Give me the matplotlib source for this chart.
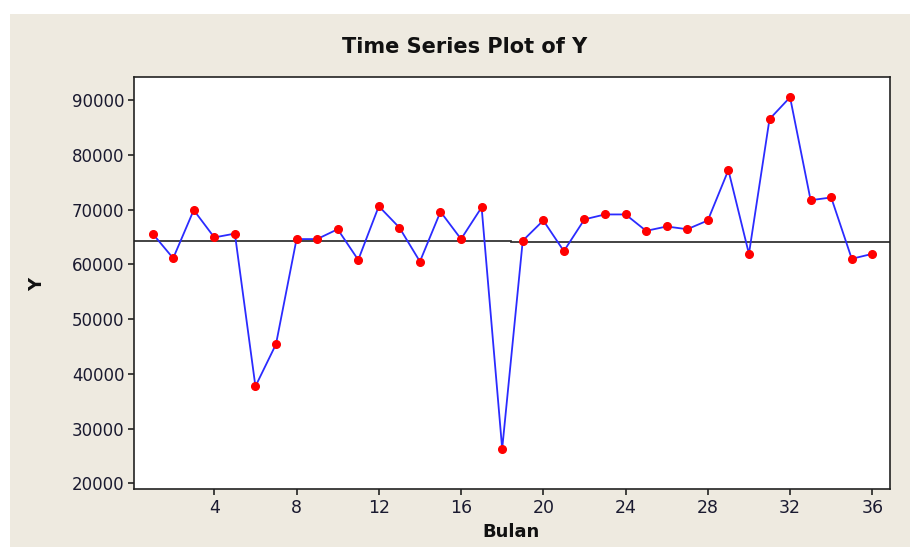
import matplotlib
matplotlib.use("Agg")
import matplotlib.pyplot as plt
from matplotlib.patches import Rectangle

# Data
bulan = list(range(1, 37))
y_values = [65600, 61100, 69900, 64900, 65600, 37700, 45400, 64600, 64600, 66400,
            60800, 70600, 66700, 60500, 69600, 64600, 70400, 26300, 64300, 68000,
            62400, 68200, 69100, 69100, 66100, 66900, 66400, 68000, 77200, 61900,
            86500, 90500, 71700, 72200, 61000, 61900]
ref_line_x = [[0.095, 18.45], [18.45, 36.86]]
ref_line_y = [64250, 64070]
x_ticks = [4, 8, 12, 16, 20, 24, 28, 32, 36]
y_ticks = [20000, 30000, 40000, 50000, 60000, 70000, 80000, 90000]

W, H = 910, 547
fig = plt.figure(figsize=(W / 100, H / 100), dpi=100)
fig.patch.set_facecolor("white")
bg = Rectangle((10 / W, 0), 1 - 10 / W, 1 - 14 / H,
               transform=fig.transFigure, facecolor="#EEEAE0",
               edgecolor="none", zorder=-10)
fig.add_artist(bg)

left, right, top, bottom = 134, 890, 77.3, 489
ax = fig.add_axes([left / W, 1 - bottom / H, (right - left) / W, (bottom - top) / H])
ax.set_zorder(5)
ax.set_facecolor("white")

for (xs, yv) in zip(ref_line_x, ref_line_y):
    ax.plot(xs, [yv, yv], color="#222222", lw=1.2, zorder=2)

ax.plot(bulan, y_values, color="#2B2BFF", lw=1.3, zorder=3)
ax.plot(bulan, y_values, linestyle="none", marker="o", markersize=5.5,
        markerfacecolor="#FF0000", markeredgecolor="#FF0000", zorder=4)

ax.set_xlim(0.095, 36.86)
ax.set_ylim(18960, 94145)
ax.set_xticks(x_ticks)
ax.set_yticks(y_ticks)
ax.set_yticklabels([str(v) for v in y_ticks])
ax.tick_params(direction="out", length=4, width=1.2, colors="#222222",
               labelsize=12, labelcolor="#1a1a30", pad=3)
ax.tick_params(axis="x", labelsize=12.5)
for s in ax.spines.values():
    s.set_color("#222222")
    s.set_linewidth(1.2)

fig.text(465 / W, 1 - 47 / H, "Time Series Plot of Y", ha="center", va="center",
         fontsize=15, fontweight="bold", color="#111111", zorder=6)
fig.text(511 / W, 1 - 532 / H, "Bulan", ha="center", va="center",
         fontsize=13, fontweight="bold", color="#111111", zorder=6)
fig.text(37 / W, 1 - 284 / H, "Y", ha="center", va="center", rotation=90,
         fontsize=13, fontweight="bold", color="#111111", zorder=6)

fig.savefig("out.png", dpi=100, facecolor=fig.get_facecolor())
